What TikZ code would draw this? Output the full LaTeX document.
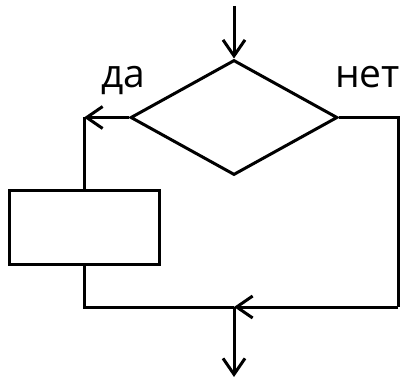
\documentclass[tikz,border=0pt]{standalone}
\usepackage{fontspec}
\setmainfont{Open Sans}
\usetikzlibrary{shapes.geometric,arrows.meta}
\begin{document}
\begin{tikzpicture}[x=1pt,y=-1pt,
  line/.style={line width=3pt},
  arr/.style={line, -{Straight Barb[length=16pt,width=22pt,line width=3pt]}},
  lbl/.style={font=\fontsize{39}{44}\selectfont, inner sep=0pt, anchor=base west}]
\useasboundingbox (0,0) rectangle (403,379);
\node[line, draw, diamond, minimum width=207pt, minimum height=115pt, inner sep=0pt] (d) at (234,117.5) {};
\node[line, draw, rectangle, minimum width=150pt, minimum height=74pt, inner sep=0pt] (r) at (84,227) {};
\coordinate (top) at (234,6);
\coordinate (l) at (84,117.5);
\coordinate (rt) at (398,117.5);
\coordinate (rb) at (398,307);
\coordinate (lb) at (84,307);
\coordinate (j) at (234,307);
\coordinate (bot) at (234,377);
\node[lbl] (da) at (101,88) {да};
\node[lbl] (net) at (335,88) {нет};
\draw[arr] (top) -- (d.north);
\draw[arr] (d.west) -- (l);
\draw[line] (l) -- (r.north);
\draw[line, line join=miter] (d.east) -- (rt) -- (rb);
\draw[arr] (rb) -- (j);
\draw[line, line join=miter] (r.south) -- (lb) -- (j);
\draw[arr] (j) -- (bot);
\end{tikzpicture}
\end{document}
